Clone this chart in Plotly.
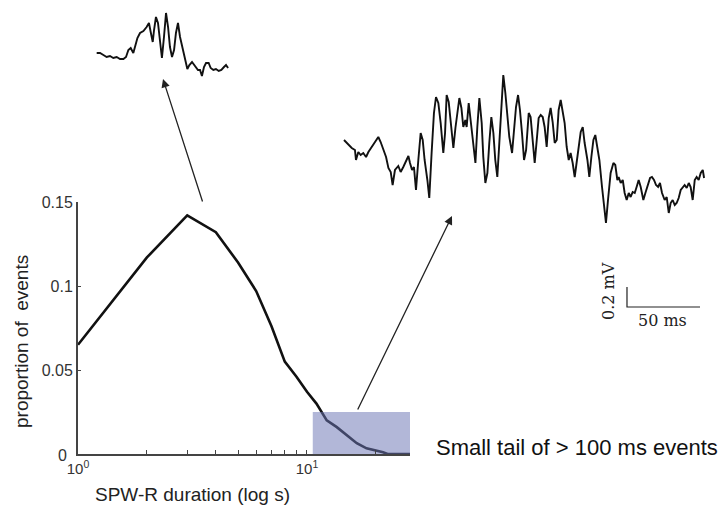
import plotly.graph_objects as go

# ---------------- data ----------------
# distribution of SPW-R durations
DURATION = [1, 2, 3, 4, 5, 6, 7, 8, 9, 10, 11, 12.2, 13.5, 14.9, 16.5, 18.2, 20.5, 21.5, 22.5, 28.2]
PROPORTION = [0.065, 0.117, 0.142, 0.132, 0.114, 0.097, 0.076, 0.055, 0.046, 0.037, 0.030,
              0.020, 0.016, 0.011, 0.0064, 0.0034, 0.002, 0.001, 0.0, 0.0]
Y_TICKS = [0.05, 0.1, 0.15]
Y_TICK_TEXT = ["0.05", "0.1", "0.15"]   # the "0" label is placed separately below
X_TICKS = [1, 10]
X_TICK_TEXT = ["10<sup>0</sup>", "10<sup>1</sup>"]
X_MINOR_TICKS = [2, 3, 4, 5, 6, 7, 8, 9, 20]

# highlighted tail region (duration, proportion)
TAIL_X = [10.6, 28.2]
TAIL_Y = [0.0, 0.025]

# short ripple example (ms, mV)
SMALL_T = [0, 2.3, 4.6, 6.8, 9.1, 11.4, 13.7, 16.0, 18.3, 20.1, 21.7, 23.3, 25.1, 26.3, 27.9, 29.7,
           32.0, 34.2, 35.8, 37.0, 38.4, 39.3, 40.6, 42.0, 43.4, 44.7, 46.1, 47.5, 48.9, 50.2,
           51.6, 53.0, 54.3, 55.7, 57.1, 58.9, 60.7, 62.1, 63.5, 65.3, 66.7, 68.0, 69.4, 70.8,
           72.1, 73.5, 74.9, 76.7, 78.1, 79.9, 81.7, 83.6, 85.4, 87.2, 88.6, 90.0]
SMALL_V = [-0.03, -0.03, -0.05, -0.07, -0.06, -0.08, -0.07, -0.09, -0.09, -0.07, 0.00, 0.02, -0.03,
           0.03, 0.12, 0.17, 0.19, 0.23, 0.27, 0.18, 0.08, 0.20, 0.33, 0.27, 0.10, -0.08, 0.13,
           0.37, 0.23, 0.03, -0.07, 0.00, 0.17, 0.27, 0.13, 0.00, -0.10, -0.19, -0.15, -0.12,
           -0.15, -0.17, -0.20, -0.20, -0.26, -0.17, -0.13, -0.13, -0.18, -0.20, -0.19, -0.21,
           -0.20, -0.17, -0.15, -0.18]

# long (>100 ms) event example (ms, mV)
LONG_T = [0, 3.0, 5.3, 7.5, 8.2, 9.8, 11.4, 13.2, 15.1, 16.7,
          18.9, 21.2, 23.5, 25.1, 26.9, 28.8, 30.4, 32.0, 33.3, 34.9,
          37.2, 38.8, 40.6, 42.5, 44.1, 45.2, 46.6, 47.9, 49.3, 50.9,
          52.5, 53.9, 55.2, 57.1, 58.4, 60.0, 61.6, 63.0, 64.6, 66.2,
          68.0, 69.2, 70.3, 71.7, 73.1, 74.9, 76.3, 77.9, 79.0, 80.4,
          81.7, 83.1, 84.0, 85.4, 86.8, 88.1, 90.0, 91.3, 92.7, 94.3,
          95.4, 96.8, 98.2, 99.5, 100.9, 102.3, 103.6, 105.0, 106.4, 107.8,
          109.1, 110.5, 111.9, 113.2, 115.1, 116.4, 117.8, 119.2, 120.5, 121.9,
          123.3, 124.7, 126.5, 127.8, 129.2, 130.6, 132.0, 133.3, 134.7, 136.1,
          137.4, 138.8, 140.2, 141.5, 142.9, 144.3, 145.7, 147.0, 148.4, 149.8,
          151.1, 152.5, 153.9, 155.2, 156.6, 158.0, 159.4, 160.7, 162.1, 163.5,
          164.8, 166.7, 168.0, 169.4, 170.8, 172.1, 173.5, 174.9, 176.7, 178.1,
          179.4, 180.8, 182.6, 184.5, 185.8, 187.2, 188.1, 189.5, 190.9, 192.2,
          193.6, 195.0, 196.3, 197.7, 199.1, 200.4, 201.8, 203.2, 205.0, 206.4,
          207.8, 209.6, 210.9, 212.3, 213.7, 215.1, 216.4, 217.8, 219.6, 221.0,
          222.4, 223.7, 225.1, 226.5, 227.8, 229.2, 230.6, 232.0, 233.3, 234.7,
          236.1, 237.4, 238.8, 240.2, 241.5, 242.9, 244.3, 245.7, 246.6]
LONG_V = [0.20, 0.15, 0.12, 0.10, 0.00, 0.08, 0.05, 0.07, 0.03, 0.08,
          0.13, 0.18, 0.23, 0.18, 0.10, 0.03, -0.08, -0.12, -0.25, -0.10,
          -0.06, -0.12, -0.07, 0.00, 0.04, -0.03, -0.10, -0.07, -0.30, 0.00,
          0.27, 0.20, 0.00, -0.20, -0.38, 0.07, 0.47, 0.63, 0.57, 0.37,
          0.07, 0.27, 0.65, 0.58, 0.37, 0.12, 0.32, 0.48, 0.62, 0.52,
          0.33, 0.40, 0.33, 0.57, 0.37, 0.17, -0.03, 0.33, 0.62, 0.37,
          0.03, -0.23, -0.13, 0.17, 0.43, 0.27, 0.00, -0.17, 0.20, 0.50,
          0.85, 0.67, 0.47, 0.23, 0.07, 0.27, 0.53, 0.65, 0.50, 0.27,
          0.00, 0.10, 0.47, 0.43, 0.17, -0.03, 0.20, 0.42, 0.45, 0.43,
          0.33, 0.13, 0.42, 0.52, 0.38, 0.17, 0.20, 0.50, 0.60, 0.50,
          0.37, 0.13, 0.00, 0.07, -0.03, -0.17, 0.00, 0.17, 0.28, 0.33,
          0.17, 0.00, -0.17, 0.03, 0.20, 0.25, 0.13, 0.00, -0.27, -0.43,
          -0.63, -0.40, -0.13, -0.03, -0.05, -0.20, -0.17, -0.23, -0.20, -0.33,
          -0.40, -0.33, -0.37, -0.32, -0.33, -0.27, -0.20, -0.27, -0.40, -0.33,
          -0.27, -0.18, -0.17, -0.20, -0.25, -0.27, -0.23, -0.33, -0.40, -0.37,
          -0.53, -0.43, -0.40, -0.45, -0.43, -0.38, -0.30, -0.27, -0.25, -0.28,
          -0.23, -0.27, -0.40, -0.20, -0.17, -0.20, -0.13, -0.10, -0.18]

# scale bar
SCALE_MS = 50
SCALE_MV = 0.2
SCALE_ORIGIN = (193.8, -1.47)

# ---------------- figure ----------------
W, H = 722, 505
fig = go.Figure()

fig.add_trace(go.Scatter(x=DURATION, y=PROPORTION, mode="lines",
                         line=dict(color="#111111", width=2.6), xaxis="x", yaxis="y",
                         hoverinfo="skip"))
fig.add_trace(go.Scatter(x=[TAIL_X[0], TAIL_X[1], TAIL_X[1], TAIL_X[0], TAIL_X[0]],
                         y=[TAIL_Y[0], TAIL_Y[0], TAIL_Y[1], TAIL_Y[1], TAIL_Y[0]],
                         mode="lines", fill="toself", fillcolor="rgba(108,116,180,0.52)",
                         line=dict(width=0), xaxis="x", yaxis="y", hoverinfo="skip"))

fig.add_trace(go.Scatter(x=SMALL_T, y=SMALL_V, mode="lines",
                         line=dict(color="#111111", width=1.9), xaxis="x2", yaxis="y2",
                         hoverinfo="skip"))
fig.add_trace(go.Scatter(x=LONG_T, y=LONG_V, mode="lines",
                         line=dict(color="#111111", width=1.9), xaxis="x3", yaxis="y3",
                         hoverinfo="skip"))
t0, v0 = SCALE_ORIGIN
fig.add_trace(go.Scatter(x=[t0, t0, t0 + SCALE_MS], y=[v0 + SCALE_MV, v0, v0], mode="lines",
                         line=dict(color="#222222", width=1.2), xaxis="x3", yaxis="y3",
                         hoverinfo="skip"))


def px(x):
    return x / W


def py(y):
    return (H - y) / H


axis_common = dict(showgrid=False, zeroline=False, showline=True, linecolor="#444444",
                   linewidth=2, ticks="inside", tickcolor="#444444", tickwidth=1,
                   automargin=False)
hidden = dict(visible=False, showgrid=False, zeroline=False, automargin=False)

fig.update_layout(
    width=W, height=H, margin=dict(l=0, r=0, t=0, b=0, pad=0, autoexpand=False),
    paper_bgcolor="white", plot_bgcolor="rgba(0,0,0,0)", showlegend=False,
    font=dict(family="Liberation Sans, Arial, sans-serif", color="#222222"),
    xaxis=dict(type="log", domain=[px(78), px(410)], range=[0, 1.45], anchor="y",
               tickvals=X_TICKS, ticktext=X_TICK_TEXT, ticklen=4,
               minor=dict(tickvals=X_MINOR_TICKS, ticks="inside", ticklen=4,
                          tickcolor="#444444", tickwidth=1, showgrid=False),
               tickfont=dict(size=15, color="#333333"), **axis_common),
    yaxis=dict(domain=[py(454), py(202)], range=[0, 0.15], anchor="x",
               tickvals=Y_TICKS, ticktext=Y_TICK_TEXT, ticklen=3,
               tickfont=dict(size=16, color="#333333"), **axis_common),
    xaxis2=dict(domain=[px(85), px(245)], range=[-8.0, 101.6], anchor="y2", **hidden),
    yaxis2=dict(domain=[py(90), py(0)], range=[-0.4, 0.5], anchor="x2", **hidden),
    xaxis3=dict(domain=[px(330), px(720)], range=[-9.59, 257.5], anchor="y3", **hidden),
    yaxis3=dict(domain=[py(320), py(60)], range=[-1.6, 1.0], anchor="x3", **hidden),
)

annotations = [
    dict(text="proportion of\u00a0 events", x=px(22), y=py(342), textangle=-90,
         font=dict(size=19, color="#222222")),
    dict(text="SPW-R duration (log s)", x=px(192), y=py(494),
         font=dict(size=19, color="#222222")),
    dict(text="Small tail of > 100 ms events", x=px(434), y=py(447), xanchor="left",
         font=dict(size=22, color="#111111")),
    dict(text="50 ms", x=px(662), y=py(320),
         font=dict(size=16, family="DejaVu Serif, serif", color="#222222")),
    dict(text="0.2 mV", x=px(608), y=py(291), textangle=-90,
         font=dict(size=16, family="DejaVu Serif, serif", color="#222222")),
    dict(text="0", x=px(62), y=py(455),
         font=dict(size=16, color="#333333")),
]
for a in annotations:
    a.update(xref="paper", yref="paper", showarrow=False)
    a.setdefault("xanchor", "center")
    a.setdefault("yanchor", "middle")

arrow_style = dict(xref="paper", yref="paper", text="", showarrow=True, arrowhead=2,
                   arrowsize=1.3, arrowwidth=1.3, arrowcolor="#222222", standoff=0)
annotations.append(dict(x=px(163), y=py(79), ax=40, ay=124, **arrow_style))
annotations.append(dict(x=px(452), y=py(216), ax=-95, ay=195, **arrow_style))

fig.update_layout(annotations=annotations)

fig.write_html("out.html", config={"displayModeBar": False, "staticPlot": True},
               post_script="document.body.style.margin='0px';document.body.style.padding='0px';")
